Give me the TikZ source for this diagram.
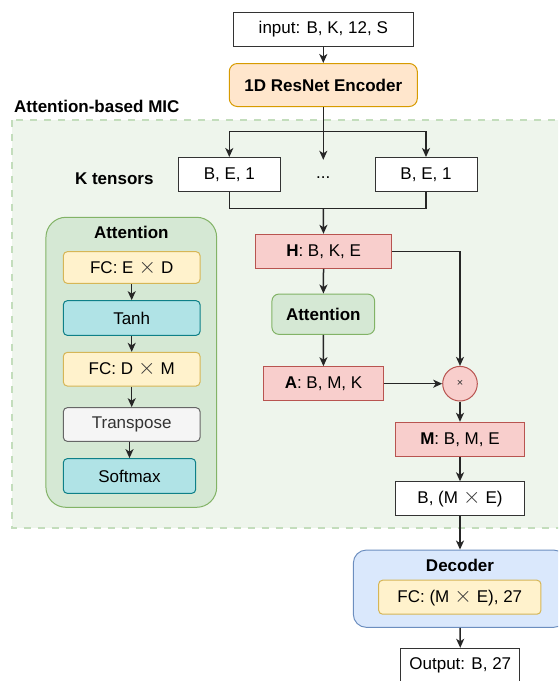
\documentclass[tikz,border=0pt]{standalone}
\usepackage{fontspec}
\setmainfont{Liberation Sans}
\usetikzlibrary{arrows.meta}

\definecolor{orfill}{HTML}{FFE6CC}
\definecolor{orline}{HTML}{D79B00}
\definecolor{rdfill}{HTML}{F8CECC}
\definecolor{rdline}{HTML}{B85450}
\definecolor{grfill}{HTML}{D5E8D4}
\definecolor{grline}{HTML}{82B366}
\definecolor{ylfill}{HTML}{FFF2CC}
\definecolor{ylline}{HTML}{D6B656}
\definecolor{tlfill}{HTML}{B0E3E6}
\definecolor{tlline}{HTML}{0E8088}
\definecolor{gyfill}{HTML}{F5F5F5}
\definecolor{gyline}{HTML}{666666}
\definecolor{gytext}{HTML}{333333}
\definecolor{blfill}{HTML}{DAE8FC}
\definecolor{blline}{HTML}{6C8EBF}
\definecolor{micfill}{HTML}{EEF5EC}
\definecolor{micline}{HTML}{C3DDBC}

\newcommand{\tms}{\hspace{5pt}\textcolor{black!80}{\scalebox{1.3}{$\times$}}\hspace{5pt}}

\tikzset{
  every node/.style={font=\fontsize{17}{20}\selectfont, inner sep=0pt},
  arr/.style={-{Stealth[length=9pt,width=8pt,inset=2.5pt]}, line width=1.5pt, draw=black!85},
  line/.style={line width=1.5pt, draw=black!85},
  box/.style={draw=black!80, fill=white, line width=1pt, minimum height=34pt},
  redbox/.style={box, draw=rdline, fill=rdfill},
  fcbox/.style={box, draw=ylline, fill=ylfill, rounded corners=4pt},
  actbox/.style={box, draw=tlline, fill=tlfill, rounded corners=4pt},
  title/.style={font=\fontsize{17}{20}\selectfont\bfseries}
}

\begin{document}
\begin{tikzpicture}[x=1pt,y=-1pt]
\clip (0,0) rectangle (558,681);
%\draw[step=10,gray,very thin] (0,0) grid (558,681); %background grid

% dashed region of the MIC
\draw[fill=micfill, draw=micline, line width=2.2pt, dash pattern=on 7pt off 7pt] (12,120) rectangle (575,528.3);
\node[title, anchor=west] (miclbl) at (14,106.7) {Attention-based MIC};

\node[box, minimum width=180pt] (input) at (323.3,29.3) {input: B, K, 12, S};
\node[box, draw=orline, fill=orfill, rounded corners=8pt, minimum width=188pt, minimum height=43pt, title] (enc) at (323.3,85) {1D ResNet Encoder};

% K tensors
\node[title] (ktxt) at (114.3,179) {K tensors};
\node[box, minimum width=102pt] (t1) at (229.3,174.5) {B, E, 1};
\node[minimum height=36pt] (dots) at (323.3,178) {...};
\node[box, minimum width=102pt] (tk) at (426,174.5) {B, E, 1};
\coordinate (split) at (323.3,131.7);
\coordinate (join) at (323.3,208.3);

\node[redbox, minimum width=136pt] (H) at (323.6,251.3) {\textbf{H}: B, K, E};
\node[box, draw=grline, fill=grfill, rounded corners=7pt, minimum width=102.7pt, minimum height=40.3pt, title] (att) at (323.3,314.2) {Attention};
\node[redbox, minimum width=119.7pt] (A) at (323.5,383.7) {\textbf{A}: B, M, K};
\node[circle, draw=rdline, fill=rdfill, line width=1pt, minimum size=34.6pt, font=\fontsize{11}{12}\selectfont] (mul) at (460,383.7) {\textcolor{gytext}{×}};
\node[redbox, minimum width=128.7pt] (M) at (460,439.3) {\textbf{M}: B, M, E};
\node[box, minimum width=128.7pt] (flat) at (460,498.8) {B, (M\tms E)};

% attention block
\node[draw=grline, fill=grfill, line width=1pt, rounded corners=20pt, minimum width=170.7pt, minimum height=290pt] (attpanel) at (131.3,362.3) {};
\node[title] (attlbl) at (131.3,232.7) {Attention};
\node[fcbox, minimum width=136.7pt, minimum height=31.7pt] (fc1) at (131.7,267.5) {FC: E\tms D};
\node[actbox, minimum width=136.7pt, minimum height=34.7pt] (tanh) at (131.7,318) {Tanh};
\node[fcbox, minimum width=136.7pt, minimum height=33.7pt] (fc2) at (131.7,369.2) {FC: D\tms M};
\node[box, draw=gyline, fill=gyfill, rounded corners=4pt, minimum width=136.7pt, minimum height=33.7pt, text=gytext] (trans) at (131.7,424.5) {Transpose};
\node[actbox, minimum width=132.4pt, minimum height=34.7pt] (soft) at (129.5,476) {Softmax};

% decoder
\node[draw=blline, fill=blfill, line width=1pt, rounded corners=13pt, minimum width=213.3pt, minimum height=77.3pt] (dec) at (460,588.7) {};
\node[title] (declbl) at (460,565) {Decoder};
\node[fcbox, minimum width=162.3pt] (fc3) at (459.8,597.2) {FC: (M\tms E), 27};
\node[box, minimum width=119.3pt] (out) at (460.3,665.3) {Output: B, 27};

% connectors
\draw[arr] (input) -- (enc);
\draw[line] (enc) -- (split);
\draw[arr] (split) -| (t1.north);
\draw[arr] (split) -| (tk.north);
\draw[arr] (split) -- (dots.north);
\draw[line] (t1.south) |- (join) -| (tk.south);
\draw[arr] (join) -- (H);
\draw[arr] (H) -- (att);
\draw[arr] (att) -- (A);
\draw[arr] (H) -| (mul);
\draw[arr] (A) -- (mul);
\draw[arr] (mul) -- (M);
\draw[arr] (M) -- (flat);
\draw[arr] (flat) -- (dec);
\draw[arr] (dec) -- (out);

\draw[arr] (fc1) -- (tanh);
\draw[arr] (tanh) -- (fc2);
\draw[arr] (fc2) -- (trans);
\draw[arr] (trans.south -| soft.north) -- (soft.north);
\end{tikzpicture}
\end{document}
